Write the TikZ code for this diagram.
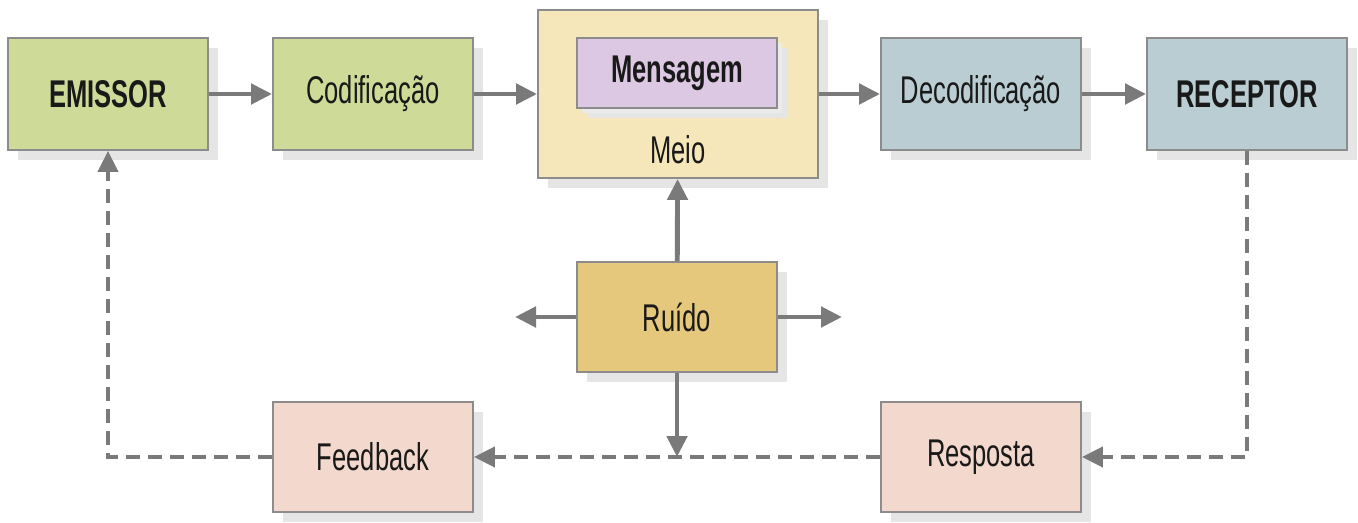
\documentclass[tikz,border=0pt]{standalone}
\usepackage{fontspec}
\setmainfont[FakeStretch=0.66]{Liberation Sans}
\usetikzlibrary{arrows.meta,shadows}

\definecolor{verde}{HTML}{CEDB98}
\definecolor{creme}{HTML}{F6E7BA}
\definecolor{lilas}{HTML}{DCC8E2}
\definecolor{azul}{HTML}{B9CDD2}
\definecolor{ocre}{HTML}{E6C87C}
\definecolor{rosa}{HTML}{F3D9CD}
\definecolor{cinza}{HTML}{7A7A7A}

\begin{document}
\begin{tikzpicture}[x=0.02cm, y=-0.02cm,
  every node/.style={font=\fontsize{22}{26}\selectfont, text=black!90},
  caixa/.style={rectangle, draw=black!45, line width=1.1pt, minimum width=4cm, minimum height=2.24cm,
    drop shadow={shadow xshift=0.2cm, shadow yshift=-0.2cm, fill=black!10, opacity=1}},
  seta/.style={draw=cinza, line width=2.8pt, -{Triangle[length=0.42cm,width=0.4cm]}},
  retorno/.style={seta, line width=2.4pt, dash pattern=on 0.28cm off 0.16cm}]
  \useasboundingbox (0,0) rectangle (1358,523);

  \node[caixa, fill=verde, font=\fontsize{22}{26}\selectfont\bfseries] (emissor) at (108,94) {EMISSOR};
  \node[caixa, fill=verde] (codif) at (373,94) {Codificação};
  \node[caixa, fill=creme, minimum width=5.6cm, minimum height=3.36cm] (meio) at (678,94) {};
  \node[caixa, fill=lilas, minimum height=1.4cm, font=\fontsize{22}{26}\selectfont\bfseries,
    drop shadow={shadow xshift=0.1cm, shadow yshift=-0.1cm, fill=black!8, opacity=1}] (mensagem) at (677,73) {Mensagem};
  \node (meiotxt) at (678,150) {Meio};
  \node[caixa, fill=azul] (decod) at (981,94) {Decodificação};
  \node[caixa, fill=azul, font=\fontsize{22}{26}\selectfont\bfseries] (receptor) at (1247,94) {RECEPTOR};
  \node[caixa, fill=ocre, minimum height=2.2cm] (ruido) at (677,317) {Ruído};
  \node[caixa, fill=rosa, minimum height=2.2cm] (feedback) at (373,457) {Feedback};
  \node[caixa, fill=rosa, minimum height=2.2cm] (resposta) at (981,457) {Resposta};

  \coordinate (esq) at (515,317);
  \coordinate (dir) at (842,317);
  \coordinate (juncao) at (677,457);

  \draw[seta] (emissor) -- (codif);
  \draw[seta] (codif) -- (meio);
  \draw[seta] (meio) -- (decod);
  \draw[seta] (decod) -- (receptor);

  \draw[seta] (ruido) -- (meio);
  \draw[seta] (ruido) -- (esq);
  \draw[seta] (ruido) -- (dir);
  \draw[seta] (ruido) -- (juncao);

  \draw[retorno] (receptor.south) |- (resposta.east);
  \draw[retorno] (resposta) -- (feedback);
  \draw[retorno] (feedback.west) -| (emissor.south);
\end{tikzpicture}
\end{document}
